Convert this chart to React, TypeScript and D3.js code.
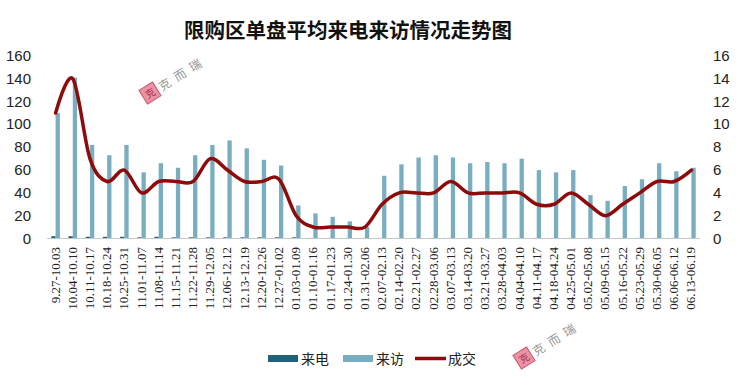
import React from "react";
import * as d3 from "d3";

const categories = [
  "9.27-10.03", "10.04-10.10", "10.11-10.17", "10.18-10.24", "10.25-10.31",
  "11.01-11.07", "11.08-11.14", "11.15-11.21", "11.22-11.28", "11.29-12.05",
  "12.06-12.12", "12.13-12.19", "12.20-12.26", "12.27-01.02", "01.03-01.09",
  "01.10-01.16", "01.17-01.23", "01.24-01.30", "01.31-02.06", "02.07-02.13",
  "02.14-02.20", "02.21-02.27", "02.28-03.06", "03.07-03.13", "03.14-03.20",
  "03.21-03.27", "03.28-04.03", "04.04-04.10", "04.11-04.17", "04.18-04.24",
  "04.25-05.01", "05.02-05.08", "05.09-05.15", "05.16-05.22", "05.23-05.29",
  "05.30-06.05", "06.06-06.12", "06.13-06.19",
];

const calls = [
  2, 2, 1.5, 1.5, 1.5, 1, 1.5, 1, 1, 1, 1, 1, 1, 1, 1, 0.5, 0.5, 0.5, 0.5,
  0.5, 0.5, 0.5, 0.5, 0.5, 0.5, 0.5, 0.5, 0.5, 0.5, 0.5, 0.5, 0.5, 0.5, 0.5,
  0.5, 0.5, 0.5, 0.5,
];

const visits = [
  110, 141, 82, 73, 82, 58, 66, 62, 73, 82, 86, 79, 69, 64, 29, 22, 19, 15,
  10, 55, 65, 71, 73, 71, 66, 67, 66, 70, 60, 58, 60, 38, 33, 46, 52, 66, 59,
  62,
];

const deals = [
  11, 14, 7, 5, 6, 4, 5, 5, 5, 7, 6, 5, 5, 5.2, 2, 1, 1, 1, 1, 3, 4, 4, 4, 5, 4,
  4, 4, 4, 3, 3, 4, 3, 2, 3, 4, 5, 5, 6,
];

const leftTicks = [0, 20, 40, 60, 80, 100, 120, 140, 160];
const rightTicks = [0, 2, 4, 6, 8, 10, 12, 14, 16];

const title = "限购区单盘平均来电来访情况走势图";

const W = 740;
const H = 385;
const plot = { left: 47, right: 700, top: 56, bottom: 238.5 };

const colCall = "#23607a";
const colVisit = "#78aec0";
const colDeal = "#8e0b0b";

function Stamp({ x, y }: { x: number; y: number }) {
  return (
    <g transform={`translate(${x},${y}) rotate(-32)`} opacity={0.9}>
      <rect x={-8} y={-8} width={16} height={16} fill="#e7899c" stroke="#c8455f" strokeWidth={1} />
      <text x={0} y={4} textAnchor="middle" fontSize={10} fill="#a01535" fontFamily="Noto Sans CJK SC">
        克
      </text>
      <text x={11} y={5} fontSize={12} fill="#8c8c8c" fontFamily="Noto Sans CJK SC" letterSpacing={6}>
        克而瑞
      </text>
    </g>
  );
}

export default function App() {
  const x = d3
    .scaleBand<string>()
    .domain(categories)
    .range([plot.left, plot.right])
    .padding(0);
  const yL = d3.scaleLinear().domain([0, 160]).range([plot.bottom, plot.top]);
  const yR = d3.scaleLinear().domain([0, 16]).range([plot.bottom, plot.top]);
  const bw = 4.3;
  const cx = (c: string) => (x(c) as number) + x.bandwidth() / 2;

  const line = d3
    .line<number>()
    .x((_, i) => cx(categories[i]))
    .y((d) => yR(d))
    .curve(d3.curveCardinal.tension(0));

  const fontSans = "'Liberation Sans', Arial, sans-serif";

  return (
    <svg
      width={W}
      height={H}
      style={{ position: "absolute", left: 0, top: 0, background: "#fff" }}
    >
      <rect x={0} y={0} width={W} height={H} fill="#fff" />
      <text
        x={348}
        y={38}
        textAnchor="middle"
        fontSize={20.5}
        fontWeight="bold"
        fontFamily="'Noto Sans CJK SC', sans-serif"
        fill="#111"
      >
        {title}
      </text>

      <Stamp x={150} y={93} />
      <Stamp x={524} y={358} />

      {/* bars */}
      {categories.map((c, i) => (
        <g key={c}>
          <rect
            x={cx(c) - bw}
            y={yL(calls[i])}
            width={bw}
            height={plot.bottom - yL(calls[i])}
            fill={colCall}
          />
          <rect
            x={cx(c)}
            y={yL(visits[i])}
            width={bw}
            height={plot.bottom - yL(visits[i])}
            fill={colVisit}
          />
        </g>
      ))}

      {/* axis line */}
      <line x1={plot.left} x2={plot.right} y1={plot.bottom} y2={plot.bottom} stroke="#c8c8c8" strokeWidth={1} />

      {/* deal line */}
      <path d={line(deals) || ""} fill="none" stroke={colDeal} strokeWidth={3.5} strokeLinejoin="round" strokeLinecap="round" />

      {/* left axis */}
      {leftTicks.map((t) => (
        <text key={t} x={31} y={yL(t) + 5} textAnchor="end" fontSize={15} fontFamily={fontSans} fill="#222">
          {t}
        </text>
      ))}
      {/* right axis */}
      {rightTicks.map((t) => (
        <text key={t} x={713} y={yR(t) + 5} textAnchor="start" fontSize={15} fontFamily={fontSans} fill="#222">
          {t}
        </text>
      ))}

      {/* x labels */}
      {categories.map((c) => (
        <text
          key={c}
          transform={`translate(${cx(c) + 4},${247}) rotate(-90)`}
          textAnchor="end"
          fontSize={13}
          fontFamily="'Liberation Serif', 'Times New Roman', serif"
          fill="#222"
        >
          {c}
        </text>
      ))}

      {/* legend */}
      <g fontFamily="'Noto Sans CJK SC', sans-serif" fontSize={14} fill="#222">
        <rect x={268} y={355} width={30} height={7} fill={colCall} />
        <text x={301} y={364}>来电</text>
        <rect x={343} y={355} width={30} height={7} fill={colVisit} />
        <text x={376} y={364}>来访</text>
        <line x1={415} x2={446} y1={358.5} y2={358.5} stroke={colDeal} strokeWidth={3.5} />
        <text x={448} y={364}>成交</text>
      </g>
    </svg>
  );
}
